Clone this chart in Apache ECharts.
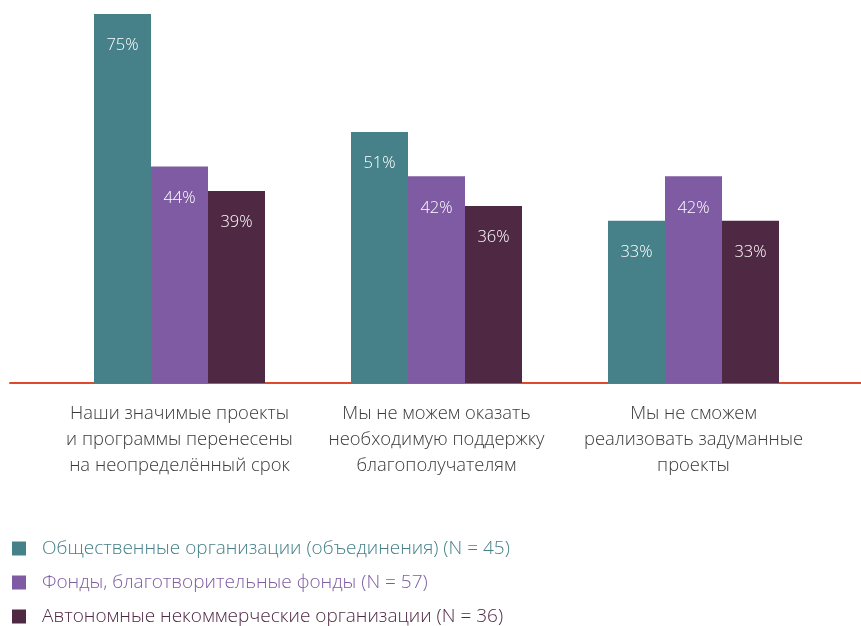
<!DOCTYPE html>
<html>
<head>
<meta charset="utf-8">
<script src="https://cdn.jsdelivr.net/npm/echarts@6/dist/echarts.min.js"></script>
<style>
  html, body { margin: 0; padding: 0; background: #fff; }
  #chart { width: 861px; height: 626px; }
</style>
</head>
<body>
<div id="chart"></div>
<script>
// данные
var categories = [
    'Наши значимые проекты\nи программы перенесены\nна неопределённый срок',
    'Мы не можем оказать\nнеобходимую поддержку\nблагополучателям',
    'Мы не сможем\nреализовать задуманные\nпроекты'
];
var seriesNames = [
    'Общественные организации (объединения) (N = 45)',
    'Фонды, благотворительные фонды (N = 57)',
    'Автономные некоммерческие организации (N = 36)'
];
var obshchestvennye = [75, 51, 33];
var fondy = [44, 42, 42];
var ano = [39, 36, 33];
var colors = ['#46818a', '#7f5ba3', '#4f2944'];

var chart = echarts.init(document.getElementById('chart'));
var font = '"Open Sans", "Noto Sans", sans-serif';

function makeSeries(name, data, color) {
    return {
        name: name,
        type: 'bar',
        xAxisIndex: 0,
        yAxisIndex: 0,
        data: data,
        barWidth: 57,
        barGap: '0%',
        itemStyle: { color: color },
        label: {
            show: true,
            position: 'insideTop',
            distance: 23,
            color: '#fff',
            fontFamily: font,
            fontWeight: 300,
            fontSize: 16.5,
            formatter: '{c}%'
        },
        emphasis: { disabled: true }
    };
}

var option = {
    animation: false,
    backgroundColor: '#fff',
    grid: [
        { left: 51, right: 39, top: 14, bottom: 243 },
        { left: 10, right: 0, top: 14, bottom: 243 }
    ],
    xAxis: [
        {
            type: 'category',
            gridIndex: 0,
            data: categories,
            axisLine: { show: false },
            axisTick: { show: false },
            axisLabel: {
                interval: 0,
                margin: 18,
                color: '#3a3a3a',
                fontFamily: font,
                fontWeight: 300,
                fontSize: 18.4,
                lineHeight: 26,
                align: 'center'
            }
        },
        {
            type: 'category',
            gridIndex: 1,
            data: [''],
            axisLine: { show: true, lineStyle: { color: '#e0492a', width: 2 } },
            axisTick: { show: false },
            axisLabel: { show: false }
        }
    ],
    yAxis: [
        { type: 'value', gridIndex: 0, min: 0, max: 75, show: false },
        { type: 'value', gridIndex: 1, min: 0, max: 75, show: false }
    ],
    legend: {
        orient: 'vertical',
        left: 12,
        top: 539,
        height: 110,
        padding: 0,
        itemWidth: 14,
        itemHeight: 14,
        itemGap: 15,
        icon: 'rect',
        selectedMode: false,
        textStyle: { fontFamily: font, fontWeight: 300, fontSize: 19, lineHeight: 19, padding: [0, 0, 0, 11] },
        data: seriesNames.map(function (n, i) {
            return { name: n, textStyle: { color: colors[i] } };
        })
    },
    series: [
        makeSeries(seriesNames[0], obshchestvennye, colors[0]),
        makeSeries(seriesNames[1], fondy, colors[1]),
        makeSeries(seriesNames[2], ano, colors[2])
    ]
};

chart.setOption(option);
</script>
</body>
</html>
